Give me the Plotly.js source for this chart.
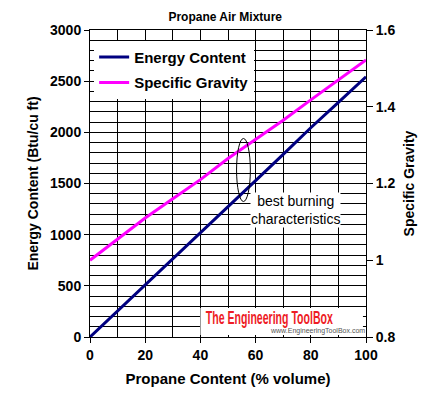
<!DOCTYPE html>
<html>
<head>
<meta charset="utf-8">
<script src="https://cdn.plot.ly/plotly-3.0.1.min.js"></script>
<style>
  html, body { margin: 0; padding: 0; background: #fff; }
  #chart { width: 444px; height: 417px; }
</style>
</head>
<body>
<div id="chart"></div>
<script>
// Propane content of a propane/air mixture (% by volume)
const propanePct = [0, 10, 20, 30, 40, 50, 60, 70, 80, 90, 100];
// Heating value of the mixture (Btu/cu ft)
const energyContent = [0, 254, 503, 760, 1013, 1268, 1528, 1785, 2045, 2292, 2543];
// Specific gravity of the mixture (air = 1)
const specificGravity = [1.0, 1.055, 1.11, 1.16, 1.21, 1.265, 1.315, 1.365, 1.418, 1.47, 1.522];

const xTicks = [0, 20, 40, 60, 80, 100];
const energyTicks = [0, 500, 1000, 1500, 2000, 2500, 3000];
const gravityTicks = [0.8, 1, 1.2, 1.4, 1.6];

const FONT = 'Arial, "Liberation Sans", sans-serif';
const boldFont = (size) => ({ family: FONT, size: size, color: '#000', weight: 'bold' });
const LOGO_TEXT = 'The Engineering ToolBox';

const traces = [
  {
    x: propanePct, y: energyContent, name: 'Energy Content',
    type: 'scatter', mode: 'lines', legendgroup: 'energy',
    line: { color: '#000080', width: 3 }, yaxis: 'y'
  },
  {
    x: propanePct, y: specificGravity, name: 'Specific Gravity',
    type: 'scatter', mode: 'lines', legendgroup: 'gravity',
    line: { color: '#ff00ff', width: 3 }, yaxis: 'y2'
  }
];

const layout = {
  width: 444, height: 417,
  margin: { l: 90, r: 78, t: 30, b: 80, pad: 0 },
  paper_bgcolor: '#fff', plot_bgcolor: '#fff',
  title: {
    text: 'Propane Air Mixture', font: boldFont(12),
    xref: 'paper', x: 0.49, xanchor: 'center',
    yref: 'container', y: 1 - 16.5 / 417, yanchor: 'middle'
  },
  showlegend: true,
  legend: {
    x: 0.015, y: 0.965, xanchor: 'left', yanchor: 'top',
    bgcolor: '#fff', borderwidth: 0, font: boldFont(15),
    traceorder: 'grouped', tracegroupgap: 3, itemwidth: 30
  },
  xaxis: {
    range: [0, 100], tickmode: 'array', tickvals: xTicks,
    ticks: 'outside', ticklen: 5, tickcolor: '#000', tickwidth: 1,
    showline: true, linecolor: '#000', linewidth: 1, mirror: true,
    showgrid: true, gridcolor: '#000', gridwidth: 1, zeroline: false,
    minor: { dtick: 10, tick0: 0, showgrid: true, gridcolor: '#000', gridwidth: 1 },
    tickfont: boldFont(14),
    title: { text: 'Propane Content (% volume)', font: boldFont(15), standoff: 11 },
    fixedrange: true
  },
  yaxis: {
    range: [0, 3000], tickmode: 'array', tickvals: energyTicks,
    ticks: 'outside', ticklen: 5, tickcolor: '#000', tickwidth: 1,
    showline: true, linecolor: '#000', linewidth: 1, mirror: false,
    showgrid: true, gridcolor: '#000', gridwidth: 1, zeroline: false,
    minor: { dtick: 100, tick0: 0, showgrid: true, gridcolor: '#000', gridwidth: 1 },
    tickfont: boldFont(14),
    title: { text: 'Energy Content (Btu/cu ft)', font: boldFont(14), standoff: 8 },
    fixedrange: true
  },
  yaxis2: {
    overlaying: 'y', side: 'right',
    range: [0.8, 1.6], tickmode: 'array', tickvals: gravityTicks,
    ticks: 'outside', ticklen: 6, tickcolor: '#000', tickwidth: 1,
    showline: true, linecolor: '#000', linewidth: 1,
    showgrid: false, zeroline: false,
    tickfont: boldFont(14),
    title: { text: 'Specific Gravity', font: boldFont(14), standoff: 9 },
    fixedrange: true
  },
  shapes: [
    // ring marking the best burning region
    { type: 'circle', xref: 'x', yref: 'y', x0: 53.1, x1: 58.1, y0: 1324, y1: 1940,
      line: { color: '#000', width: 1 }, fillcolor: 'rgba(0,0,0,0)' },
    // white plate behind the site logo
    { type: 'rect', xref: 'x', yref: 'y', x0: 40, x1: 98.9, y0: 20, y1: 283,
      fillcolor: '#fff', line: { width: 0 }, layer: 'above' }
  ],
  annotations: [
    { text: 'best burning<br>characteristics', xref: 'x', yref: 'y', x: 74.3, y: 1241,
      showarrow: false, bgcolor: '#fff', borderpad: 0,
      font: { family: FONT, size: 14, color: '#000' } },
    { text: LOGO_TEXT, xref: 'x', yref: 'y', x: 64.9, y: 181,
      showarrow: false,
      font: { family: FONT, size: 18, color: '#ee1c25', weight: 'bold' } },
    { text: 'www.EngineeringToolBox.com', xref: 'x', yref: 'y', x: 82.4, y: 60,
      showarrow: false,
      font: { family: FONT, size: 7, color: '#555' } }
  ]
};

Plotly.newPlot('chart', traces, layout, { displayModeBar: false, staticPlot: true }).then((gd) => {
  // condense the logo lettering into its narrow plate
  gd.querySelectorAll('.annotation-text').forEach((t) => {
    if (t.textContent === LOGO_TEXT) {
      t.setAttribute('textLength', '127');
      t.setAttribute('lengthAdjust', 'spacingAndGlyphs');
    }
  });
});
</script>
</body>
</html>
